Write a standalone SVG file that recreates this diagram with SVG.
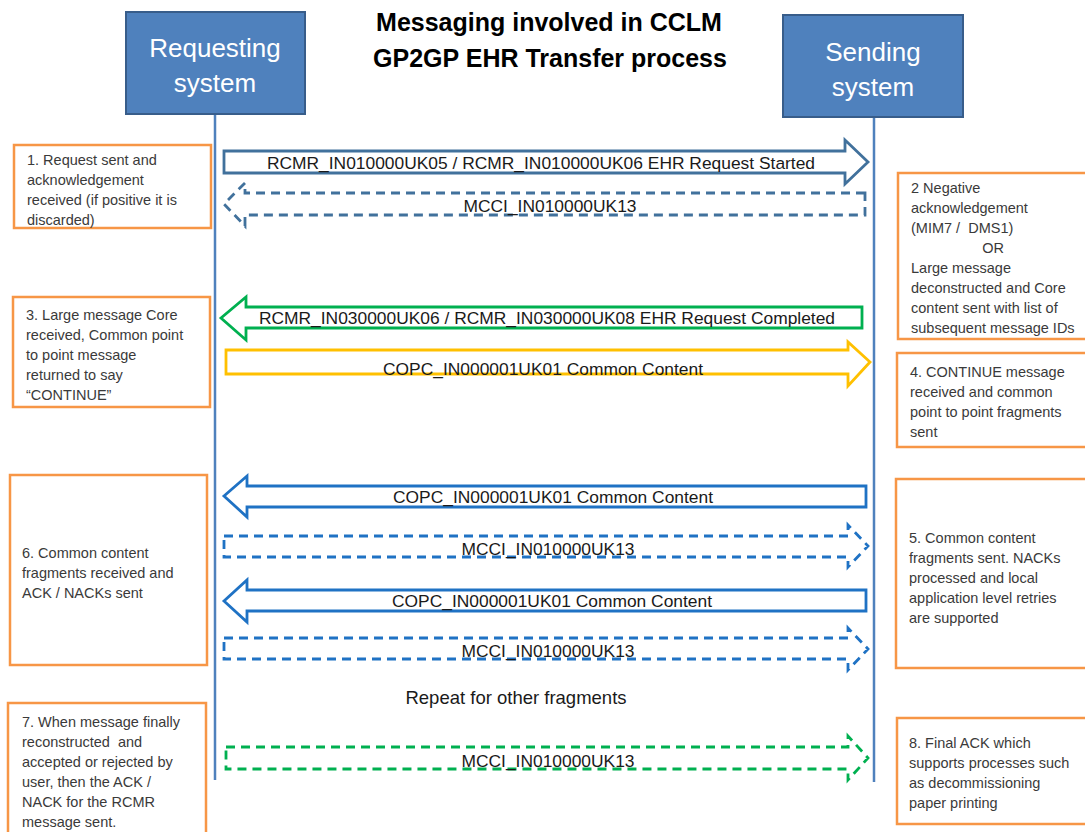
<svg xmlns="http://www.w3.org/2000/svg" width="1085" height="832" viewBox="0 0 1085 832">
<style>
.hdr{fill:#4F81BD;stroke:#385D8A;stroke-width:2}
.hdrt{font-family:"Liberation Sans",Arial,sans-serif;font-size:26px;fill:#ffffff;text-anchor:middle}
.title{font-family:"Liberation Sans",Arial,sans-serif;font-size:25px;font-weight:bold;fill:#000;text-anchor:middle}
.life{stroke:#4F81BD;stroke-width:2.5;fill:none}
.note{fill:#fff;stroke:#F79646;stroke-width:2.5}
.nt{font-family:"Liberation Sans",Arial,sans-serif;font-size:14.5px;fill:#3a3a3a;white-space:pre}
.lbl{font-family:"Liberation Sans",Arial,sans-serif;font-size:17.4px;fill:#1a1a1a;text-anchor:middle}
.rep{font-size:18.5px}
.a{fill:none;stroke-width:2.8;stroke-linejoin:miter}
.dash{stroke-dasharray:9 6}
.dk{stroke:#41719C}
.gr{stroke:#00B050}
.ye{stroke:#FFC000}
.bl{stroke:#1F72C4}
</style>
<rect width="1085" height="832" fill="#ffffff"/>
<g id="title">
<text class="title" x="549" y="31">Messaging involved in CCLM</text>
<text class="title" x="550" y="67">GP2GP EHR Transfer process</text>
</g>
<g id="requesting">
<rect class="hdr" x="126" y="12" width="179" height="102"/>
<text class="hdrt" x="215" y="57">Requesting</text>
<text class="hdrt" x="215" y="92">system</text>
<line class="life" x1="215" y1="115" x2="215" y2="780"/>
</g>
<g id="sending">
<rect class="hdr" x="783" y="15" width="180" height="102"/>
<text class="hdrt" x="873" y="61">Sending</text>
<text class="hdrt" x="873" y="96">system</text>
<line class="life" x1="874" y1="118" x2="874" y2="782"/>
</g>
<g id="note1">
<rect class="note" x="14" y="145" width="197" height="83"/>
<text class="nt"><tspan x="27" y="165">1. Request sent and</tspan><tspan x="27" y="185">acknowledgement</tspan><tspan x="27" y="205">received (if positive it is</tspan><tspan x="27" y="225">discarded)</tspan></text>
</g>
<g id="note2">
<rect class="note" x="898" y="173" width="195" height="166"/>
<text class="nt" xml:space="preserve"><tspan x="911" y="193">2 Negative</tspan><tspan x="911" y="213">acknowledgement</tspan><tspan x="911" y="233">(MIM7 /  DMS1)</tspan><tspan x="993" y="253" text-anchor="middle">OR</tspan><tspan x="911" y="273">Large message</tspan><tspan x="911" y="293">deconstructed and Core</tspan><tspan x="911" y="313">content sent with list of</tspan><tspan x="911" y="333">subsequent message IDs</tspan></text>
</g>
<g id="note3">
<rect class="note" x="13" y="297" width="197" height="110"/>
<text class="nt"><tspan x="26" y="320">3. Large message Core</tspan><tspan x="26" y="340">received, Common point</tspan><tspan x="26" y="360">to point message</tspan><tspan x="26" y="380">returned to say</tspan><tspan x="26" y="400">“CONTINUE”</tspan></text>
</g>
<g id="note4">
<rect class="note" x="897" y="353" width="196" height="94"/>
<text class="nt"><tspan x="910" y="377">4. CONTINUE message</tspan><tspan x="910" y="397">received and common</tspan><tspan x="910" y="417">point to point fragments</tspan><tspan x="910" y="437">sent</tspan></text>
</g>
<g id="note5">
<rect class="note" x="896" y="479" width="197" height="189"/>
<text class="nt"><tspan x="909" y="543">5. Common content</tspan><tspan x="909" y="563">fragments sent. NACKs</tspan><tspan x="909" y="583">processed and local</tspan><tspan x="909" y="603">application level retries</tspan><tspan x="909" y="623">are supported</tspan></text>
</g>
<g id="note6">
<rect class="note" x="10" y="475" width="197" height="190"/>
<text class="nt"><tspan x="22" y="558">6. Common content</tspan><tspan x="22" y="578">fragments received and</tspan><tspan x="22" y="598">ACK / NACKs sent</tspan></text>
</g>
<g id="note7">
<rect class="note" x="8" y="703" width="198" height="140"/>
<text class="nt" xml:space="preserve"><tspan x="22" y="727">7. When message finally</tspan><tspan x="22" y="747">reconstructed  and</tspan><tspan x="22" y="767">accepted or rejected by</tspan><tspan x="22" y="787">user, then the ACK /</tspan><tspan x="22" y="807">NACK for the RCMR</tspan><tspan x="22" y="827">message sent.</tspan></text>
</g>
<g id="note8">
<rect class="note" x="897" y="718" width="196" height="106"/>
<text class="nt"><tspan x="909" y="748">8. Final ACK which</tspan><tspan x="909" y="768">supports processes such</tspan><tspan x="909" y="788">as decommissioning</tspan><tspan x="909" y="808">paper printing</tspan></text>
</g>
<g id="connectors">
<path class="a dk" d="M224,151 H845 V140 L868,162 L845,184 V173 H224 Z"/>
<path class="a dk dash" d="M865,193 H245 V183 L224,204 L245,226 V215 H865 Z"/>
<path class="a gr" d="M862,307 H246 V297 L221,318 L246,340 V328 H862 Z"/>
<path class="a ye" d="M226,350 H848 V342 L870,362 L848,386 V374 H226 Z"/>
<path class="a bl" d="M866,486 H247 V476 L224,496 L247,517 V507 H866 Z"/>
<path class="a bl dash" d="M224,536 H848 V525 L868,546 L848,567 V557 H224 Z"/>
<path class="a bl" d="M866,590 H247 V580 L224,601 L247,622 V611 H866 Z"/>
<path class="a bl dash" d="M224,638 H848 V628 L868,649 L848,670 V659 H224 Z"/>
<path class="a gr dash" d="M226,747 H848 V736 L868,758 L848,780 V769 H226 Z"/>
<text class="lbl" x="541" y="169">RCMR_IN010000UK05 / RCMR_IN010000UK06 EHR Request Started</text>
<text class="lbl" x="550" y="212">MCCI_IN010000UK13</text>
<text class="lbl" x="547" y="324">RCMR_IN030000UK06 / RCMR_IN030000UK08 EHR Request Completed</text>
<text class="lbl" x="543" y="375">COPC_IN000001UK01 Common Content</text>
<text class="lbl" x="553" y="503">COPC_IN000001UK01 Common Content</text>
<text class="lbl" x="548" y="555">MCCI_IN010000UK13</text>
<text class="lbl" x="552" y="607">COPC_IN000001UK01 Common Content</text>
<text class="lbl" x="548" y="657">MCCI_IN010000UK13</text>
<text class="lbl rep" x="516" y="704">Repeat for other fragments</text>
<text class="lbl" x="548" y="767">MCCI_IN010000UK13</text>
</g>
</svg>
